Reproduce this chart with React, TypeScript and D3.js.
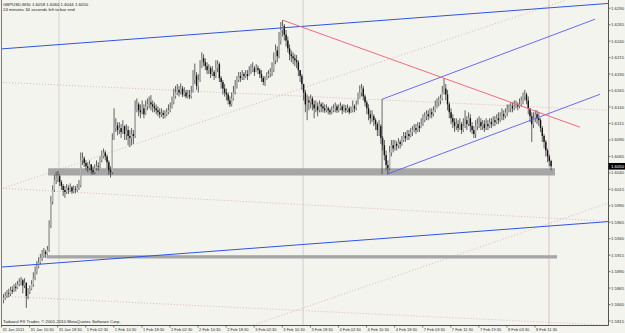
import React from 'react';
import * as d3 from 'd3';

const W = 625;
const H = 333;

const symbolTitle = 'GBPUSD,M30  1.6058 1.6060 1.6044 1.6050';
const timerText = '24 minutes 34 seconds left to bar end';
const copyrightText = 'Tadawul FX Trader, \u00A9 2001-2010 MetaQuotes Software Corp.';

const firstOpen = 1.5847;
const closes = [
  1.5850,1.5853,1.5857,1.5856,1.5862,1.5860,1.5867,1.5865,1.5871,1.5874,
  1.5877,1.5869,1.5873,1.5853,1.5859,1.5864,1.5871,1.5880,1.5889,1.5898,
  1.5904,1.5911,1.5914,1.5920,1.5917,1.5923,1.5961,1.5996,1.6014,1.6029,
  1.6032,1.6035,1.6026,1.6020,1.6014,1.6011,1.6017,1.6014,1.6018,1.6012,
  1.6015,1.6014,1.6017,1.6021,1.6059,1.6062,1.6055,1.6050,1.6047,1.6053,
  1.6044,1.6041,1.6047,1.6050,1.6049,1.6059,1.6065,1.6071,1.6065,1.6056,
  1.6044,1.6041,1.6090,1.6108,1.6112,1.6105,1.6108,1.6102,1.6111,1.6099,
  1.6105,1.6096,1.6093,1.6099,1.6096,1.6135,1.6144,1.6135,1.6132,1.6138,
  1.6129,1.6141,1.6144,1.6147,1.6144,1.6141,1.6138,1.6135,1.6132,1.6129,
  1.6131,1.6128,1.6129,1.6132,1.6135,1.6138,1.6147,1.6156,1.6162,1.6166,
  1.6162,1.6168,1.6159,1.6162,1.6156,1.6158,1.6156,1.6162,1.6181,1.6188,
  1.6172,1.6181,1.6202,1.6214,1.6208,1.6202,1.6196,1.6199,1.6190,1.6193,
  1.6187,1.6199,1.6205,1.6184,1.6178,1.6168,1.6162,1.6159,1.6150,1.6144,
  1.6153,1.6162,1.6172,1.6181,1.6187,1.6184,1.6190,1.6187,1.6190,1.6187,
  1.6193,1.6196,1.6199,1.6193,1.6199,1.6196,1.6190,1.6184,1.6178,1.6181,
  1.6187,1.6190,1.6193,1.6196,1.6211,1.6226,1.6217,1.6241,1.6257,1.6263,
  1.6250,1.6241,1.6229,1.6220,1.6217,1.6214,1.6211,1.6208,1.6196,1.6187,
  1.6175,1.6162,1.6144,1.6150,1.6147,1.6153,1.6144,1.6138,1.6141,1.6135,
  1.6144,1.6141,1.6138,1.6135,1.6138,1.6135,1.6132,1.6135,1.6138,1.6141,
  1.6135,1.6138,1.6141,1.6135,1.6138,1.6135,1.6138,1.6132,1.6135,1.6141,
  1.6138,1.6144,1.6153,1.6162,1.6168,1.6156,1.6147,1.6138,1.6129,1.6123,
  1.6126,1.6120,1.6114,1.6105,1.6111,1.6093,1.6082,1.6067,1.6052,1.6047,
  1.6071,1.6082,1.6077,1.6084,1.6081,1.6087,1.6084,1.6090,1.6096,1.6093,
  1.6099,1.6096,1.6102,1.6105,1.6108,1.6105,1.6111,1.6108,1.6114,1.6120,
  1.6126,1.6129,1.6126,1.6132,1.6129,1.6135,1.6141,1.6147,1.6150,1.6153,
  1.6162,1.6168,1.6159,1.6144,1.6132,1.6123,1.6117,1.6111,1.6114,1.6108,
  1.6114,1.6105,1.6111,1.6120,1.6114,1.6123,1.6111,1.6105,1.6099,1.6111,
  1.6114,1.6117,1.6111,1.6114,1.6108,1.6114,1.6111,1.6117,1.6114,1.6120,
  1.6117,1.6123,1.6120,1.6126,1.6129,1.6126,1.6132,1.6135,1.6138,1.6141,
  1.6138,1.6141,1.6144,1.6141,1.6144,1.6150,1.6156,1.6159,1.6150,1.6138,
  1.6126,1.6114,1.6123,1.6129,1.6123,1.6120,1.6108,1.6096,1.6087,1.6074,
  1.6065,1.6058,1.6050,
];
const highs = [
  1.5856,1.5859,1.5862,1.5864,1.5867,1.5868,1.5871,1.5873,1.5876,1.5880,
  1.5882,1.5879,1.5880,1.5874,1.5865,1.5869,1.5877,1.5889,1.5898,1.5906,
  1.5912,1.5917,1.5923,1.5926,1.5923,1.5929,1.5968,1.6005,1.6021,1.6037,
  1.6041,1.6043,1.6038,1.6029,1.6023,1.6020,1.6023,1.6021,1.6024,1.6020,
  1.6021,1.6020,1.6023,1.6029,1.6071,1.6071,1.6065,1.6059,1.6056,1.6059,
  1.6053,1.6050,1.6053,1.6059,1.6056,1.6065,1.6074,1.6077,1.6074,1.6068,
  1.6059,1.6050,1.6100,1.6138,1.6123,1.6117,1.6117,1.6114,1.6120,1.6112,
  1.6114,1.6111,1.6105,1.6108,1.6105,1.6150,1.6153,1.6147,1.6144,1.6150,
  1.6144,1.6150,1.6153,1.6156,1.6158,1.6150,1.6147,1.6144,1.6141,1.6138,
  1.6138,1.6135,1.6135,1.6138,1.6144,1.6147,1.6156,1.6168,1.6172,1.6175,
  1.6172,1.6176,1.6172,1.6170,1.6166,1.6166,1.6166,1.6172,1.6196,1.6206,
  1.6193,1.6190,1.6211,1.6223,1.6220,1.6214,1.6208,1.6205,1.6202,1.6202,
  1.6196,1.6211,1.6211,1.6208,1.6187,1.6181,1.6175,1.6168,1.6162,1.6156,
  1.6162,1.6172,1.6181,1.6187,1.6193,1.6193,1.6196,1.6193,1.6196,1.6196,
  1.6202,1.6205,1.6208,1.6202,1.6205,1.6203,1.6199,1.6196,1.6187,1.6187,
  1.6193,1.6196,1.6199,1.6208,1.6223,1.6235,1.6232,1.6254,1.6269,1.6272,
  1.6266,1.6257,1.6247,1.6235,1.6226,1.6223,1.6220,1.6219,1.6211,1.6196,
  1.6190,1.6175,1.6166,1.6159,1.6156,1.6159,1.6156,1.6150,1.6150,1.6147,
  1.6150,1.6147,1.6147,1.6144,1.6144,1.6141,1.6138,1.6141,1.6144,1.6147,
  1.6144,1.6144,1.6147,1.6144,1.6144,1.6143,1.6144,1.6141,1.6141,1.6150,
  1.6144,1.6150,1.6162,1.6173,1.6175,1.6172,1.6159,1.6150,1.6144,1.6135,
  1.6135,1.6129,1.6123,1.6117,1.6120,1.6114,1.6096,1.6090,1.6074,1.6059,
  1.6081,1.6090,1.6090,1.6090,1.6088,1.6093,1.6090,1.6096,1.6102,1.6102,
  1.6105,1.6105,1.6108,1.6111,1.6114,1.6114,1.6117,1.6117,1.6123,1.6129,
  1.6132,1.6135,1.6135,1.6138,1.6138,1.6141,1.6150,1.6153,1.6156,1.6159,
  1.6172,1.6184,1.6175,1.6166,1.6147,1.6138,1.6129,1.6123,1.6123,1.6120,
  1.6123,1.6117,1.6123,1.6135,1.6126,1.6132,1.6129,1.6117,1.6111,1.6120,
  1.6123,1.6126,1.6123,1.6120,1.6120,1.6123,1.6120,1.6123,1.6123,1.6126,
  1.6126,1.6129,1.6132,1.6132,1.6138,1.6135,1.6138,1.6144,1.6144,1.6147,
  1.6147,1.6150,1.6150,1.6147,1.6153,1.6156,1.6162,1.6166,1.6162,1.6156,
  1.6138,1.6132,1.6132,1.6135,1.6135,1.6132,1.6123,1.6111,1.6099,1.6090,
  1.6077,1.6068,1.6060,
];
const lows = [
  1.5842,1.5847,1.5850,1.5851,1.5853,1.5856,1.5859,1.5860,1.5864,1.5868,
  1.5869,1.5857,1.5865,1.5835,1.5848,1.5856,1.5862,1.5867,1.5877,1.5886,
  1.5895,1.5901,1.5906,1.5911,1.5911,1.5915,1.5920,1.5956,1.5992,1.6011,
  1.6023,1.6026,1.6020,1.6014,1.6005,1.6002,1.6008,1.6008,1.6011,1.6008,
  1.6009,1.6009,1.6011,1.6014,1.6018,1.6052,1.6049,1.6044,1.6041,1.6044,
  1.6038,1.6037,1.6038,1.6044,1.6043,1.6047,1.6056,1.6062,1.6059,1.6047,
  1.6037,1.6033,1.6038,1.6090,1.6102,1.6097,1.6099,1.6093,1.6099,1.6090,
  1.6090,1.6082,1.6079,1.6082,1.6084,1.6093,1.6132,1.6126,1.6123,1.6129,
  1.6123,1.6128,1.6135,1.6138,1.6135,1.6132,1.6132,1.6129,1.6126,1.6123,
  1.6125,1.6122,1.6123,1.6126,1.6129,1.6132,1.6138,1.6144,1.6153,1.6158,
  1.6156,1.6159,1.6155,1.6156,1.6153,1.6153,1.6152,1.6153,1.6162,1.6175,
  1.6166,1.6162,1.6178,1.6199,1.6202,1.6196,1.6190,1.6190,1.6184,1.6187,
  1.6181,1.6184,1.6193,1.6178,1.6168,1.6159,1.6156,1.6150,1.6144,1.6140,
  1.6141,1.6150,1.6159,1.6168,1.6178,1.6178,1.6181,1.6181,1.6184,1.6181,
  1.6187,1.6190,1.6193,1.6187,1.6193,1.6190,1.6184,1.6178,1.6173,1.6172,
  1.6181,1.6184,1.6185,1.6187,1.6193,1.6205,1.6208,1.6214,1.6235,1.6247,
  1.6241,1.6232,1.6223,1.6211,1.6208,1.6205,1.6202,1.6199,1.6187,1.6178,
  1.6166,1.6150,1.6132,1.6120,1.6135,1.6138,1.6135,1.6123,1.6132,1.6126,
  1.6132,1.6132,1.6132,1.6131,1.6132,1.6129,1.6128,1.6129,1.6132,1.6132,
  1.6131,1.6132,1.6135,1.6129,1.6132,1.6131,1.6132,1.6129,1.6131,1.6132,
  1.6132,1.6135,1.6144,1.6153,1.6156,1.6150,1.6141,1.6129,1.6120,1.6114,
  1.6117,1.6111,1.6105,1.6096,1.6096,1.6084,1.6074,1.6059,1.6044,1.6038,
  1.6044,1.6065,1.6071,1.6074,1.6074,1.6077,1.6077,1.6081,1.6087,1.6087,
  1.6090,1.6090,1.6094,1.6096,1.6102,1.6099,1.6102,1.6102,1.6108,1.6111,
  1.6117,1.6120,1.6120,1.6123,1.6123,1.6126,1.6132,1.6138,1.6141,1.6144,
  1.6150,1.6159,1.6150,1.6135,1.6123,1.6114,1.6108,1.6102,1.6105,1.6102,
  1.6105,1.6099,1.6102,1.6108,1.6105,1.6111,1.6102,1.6099,1.6093,1.6093,
  1.6105,1.6108,1.6105,1.6105,1.6102,1.6105,1.6105,1.6108,1.6108,1.6111,
  1.6111,1.6114,1.6114,1.6117,1.6120,1.6120,1.6123,1.6126,1.6132,1.6132,
  1.6132,1.6135,1.6138,1.6135,1.6138,1.6141,1.6144,1.6150,1.6144,1.6129,
  1.6117,1.6087,1.6108,1.6117,1.6114,1.6111,1.6102,1.6087,1.6077,1.6065,
  1.6056,1.6050,1.6044,
];

const priceTicks = [
  1.5815, 1.5840, 1.5865, 1.5890, 1.5915, 1.5940, 1.5965, 1.5990, 1.6015, 1.6040,
  1.6065, 1.6090, 1.6115, 1.6140, 1.6165, 1.6190, 1.6215, 1.6240, 1.6265, 1.6290,
];
const timeLabels = [
  '31 Jan 2011', '31 Jan 10:30', '31 Jan 18:30', '1 Feb 02:30', '1 Feb 10:30',
  '1 Feb 18:30', '2 Feb 02:30', '2 Feb 10:30', '2 Feb 18:30', '3 Feb 02:30',
  '3 Feb 10:30', '3 Feb 18:30', '4 Feb 02:30', '4 Feb 10:30', '4 Feb 18:30',
  '7 Feb 03:30', '7 Feb 11:30', '7 Feb 19:30', '8 Feb 03:30', '8 Feb 11:30',
];
const currentPrice = 1.6050;

// objects: [barIndex1, price1, barIndex2, price2]
const channelLines = [
  [0, 1.62285, 300, 1.62884],
  [0, 1.58972, 300, 1.59571],
];
const equidistantLines = [
  [215.7, 1.61518, 337, 1.62733],
  [218.5, 1.6038, 339.9, 1.61594],
  [215.7, 1.61518, 215.7, 1.6038],
];
const redTrend = [159.3, 1.62717, 328.5, 1.61093];
const dottedLines = [
  [-2, 1.60167, 344.4, 1.59666],
  [-2, 1.61776, 344.4, 1.61351],
  [-2, 1.60152, 320, 1.6302],
  [-2, 1.58528, 344.4, 1.58088],
  [142.2, 1.58088, 344.4, 1.5994],
];
// zones: [barStart, barEnd, priceTop, priceBottom]
const zones = [
  [25.4, 314.2, 1.6047, 1.6036],
  [24.6, 315.4, 1.5915, 1.5910],
];
const vLines = [31.6, 170.7, 310.8];

const FONT = "'Liberation Sans', Arial, sans-serif";

export default function App() {
  const plotRight = 608;
  const plotBottom = 325;
  const x = d3.scaleLinear().domain([0, 345]).range([3.5, 609]);
  const y = d3.scaleLinear().domain([1.5809, 1.6301]).range([325, 1]);

  const bars = closes.map((c, i) => {
    const o = i === 0 ? firstOpen : closes[i - 1];
    return { i, o, c, h: Math.max(highs[i], o, c), l: Math.min(lows[i], o, c) };
  });

  const seg = (s: number[]) => ({ x1: x(s[0]), y1: y(s[1]), x2: x(s[2]), y2: y(s[3]) });
  const extend = (s: number[]) => {
    const slope = (s[3] - s[1]) / (s[2] - s[0]);
    const a = -5, b = 350;
    return { x1: x(a), y1: y(s[1] + slope * (a - s[0])), x2: x(b), y2: y(s[1] + slope * (b - s[0])) };
  };

  return (
    <svg width={W} height={H} style={{ position: 'absolute', left: 0, top: 0 }}
      fontFamily={FONT}>
      <defs>
        <clipPath id="plot">
          <rect x={2} y={0} width={plotRight - 2} height={plotBottom} />
        </clipPath>
      </defs>
      <rect x={0} y={0} width={W} height={H} fill="#f4f4ef" />
      <g clipPath="url(#plot)">
        {vLines.map((v, k) => (
          <line key={'v' + k} x1={x(v)} x2={x(v)} y1={0} y2={plotBottom}
            stroke={k === 2 ? '#d8c0cc' : '#cfcfcf'} strokeWidth={1} />
        ))}
        {dottedLines.map((s, k) => {
          const p = seg(s);
          return <line key={'d' + k} {...p} stroke="#d8a0b8" strokeWidth={0.8} strokeDasharray="1,2" />;
        })}
        {zones.map((z, k) => (
          <rect key={'z' + k} x={x(z[0])} width={x(z[1]) - x(z[0])} y={y(z[2])}
            height={y(z[3]) - y(z[2])} fill="#a6a6a6" />
        ))}
        {bars.map((b) => {
          const cx = x(b.i);
          const up = b.c >= b.o;
          const top = y(Math.max(b.o, b.c));
          const bot = y(Math.min(b.o, b.c));
          return (
            <g key={'b' + b.i}>
              <line x1={cx} x2={cx} y1={y(b.h)} y2={y(b.l)} stroke="#3a3a3a" strokeWidth={0.8} />
              <rect x={cx - 0.7} width={1.4} y={top} height={Math.max(0.6, bot - top)}
                fill={up ? '#b4b4b4' : '#111'} />
            </g>
          );
        })}
        {channelLines.map((s, k) => (
          <line key={'c' + k} {...extend(s)} stroke="#2f55e0" strokeWidth={1} />
        ))}
        {equidistantLines.map((s, k) => (
          <line key={'e' + k} {...seg(s)} stroke={k === 2 ? '#444' : '#5a5af0'} strokeWidth={k === 2 ? 0.8 : 0.9} />
        ))}
        <line {...seg(redTrend)} stroke="#f26a78" strokeWidth={1} />
      </g>

      {/* frame */}
      <line x1={1.5} x2={1.5} y1={0} y2={plotBottom} stroke="#7a7a7a" strokeWidth={1} />
      <line x1={plotRight + 0.5} x2={plotRight + 0.5} y1={0} y2={plotBottom + 0.5} stroke="#555" strokeWidth={1} />
      <line x1={1.5} x2={plotRight + 0.5} y1={plotBottom + 0.5} y2={plotBottom + 0.5} stroke="#555" strokeWidth={1} />

      {/* price axis */}
      {priceTicks.map((p) => (
        <g key={'pt' + p}>
          <line x1={plotRight} x2={plotRight + 2.5} y1={y(p)} y2={y(p)} stroke="#555" strokeWidth={0.8} />
          <text x={611} y={y(p) + 1.5} fontSize={4.3} fill="#333">{p.toFixed(4)}</text>
        </g>
      ))}
      <rect x={plotRight + 0.5} y={y(currentPrice) - 3.3} width={16.5} height={6.6} fill="#000" />
      <text x={611} y={y(currentPrice) + 1.5} fontSize={4.3} fill="#fff">{currentPrice.toFixed(4)}</text>

      {/* time axis */}
      {timeLabels.map((t, k) => {
        const tx = x(k * 16) - 2;
        return (
          <g key={'tl' + k}>
            <line x1={tx} x2={tx} y1={plotBottom} y2={plotBottom + 2.5} stroke="#555" strokeWidth={0.8} />
            <text x={tx + 1} y={331} fontSize={4} fill="#333">{t}</text>
          </g>
        );
      })}

      {/* texts */}
      <text x={3} y={5.5} fontSize={4.3} fill="#222">{symbolTitle}</text>
      <text x={3} y={10.8} fontSize={4.3} fill="#222">{timerText}</text>
      <text x={3} y={322.5} fontSize={4.3} fill="#222">{copyrightText}</text>
    </svg>
  );
}
